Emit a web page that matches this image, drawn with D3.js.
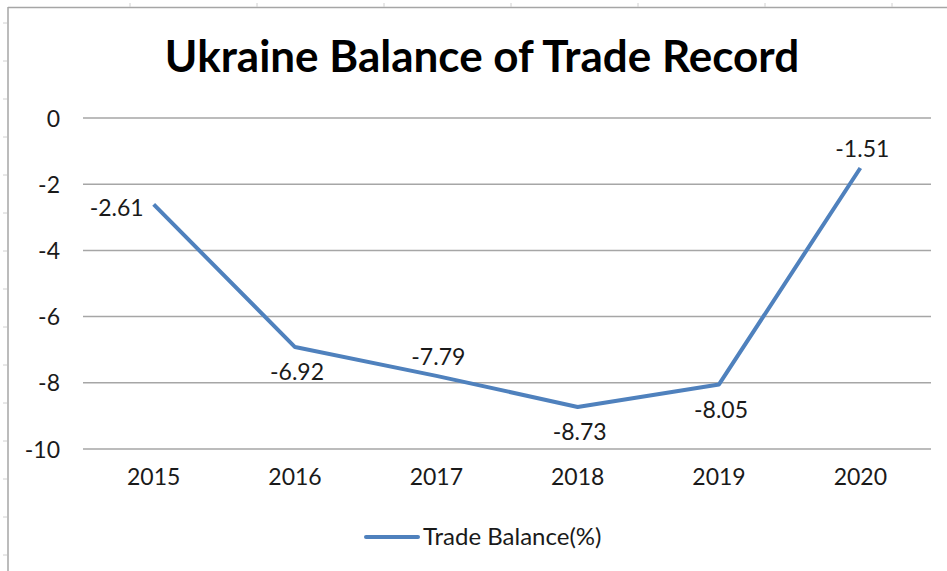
<!DOCTYPE html>
<html><head><meta charset="utf-8">
<script src="https://cdn.jsdelivr.net/npm/d3@7"></script>
<style>html,body{margin:0;padding:0;background:#fff;}svg{display:block;}</style>
</head><body>
<script>
const years = ["2015","2016","2017","2018","2019","2020"];
const tradeBalance = [-2.61,-6.92,-7.79,-8.73,-8.05,-1.51];
const labelPos = ["left","below","above","below","below","above"];
const yTicks = [0,-2,-4,-6,-8,-10];
const title = "Ukraine Balance of Trade Record";
const seriesName = "Trade Balance(%)";

const W=947,H=571;
const svg=d3.select("body").append("svg").attr("width",W).attr("height",H);
const font="Lato, 'Open Sans', sans-serif";
const lineColor="#4f81bd";
const fs=23;

// outer frame (top + left) and ruler marks
svg.append("line").attr("x1",8).attr("x2",W).attr("y1",7.5).attr("y2",7.5).attr("stroke","#a6a6a6").attr("stroke-width",1.5);
svg.append("line").attr("x1",8).attr("x2",8).attr("y1",7).attr("y2",H).attr("stroke","#a6a6a6").attr("stroke-width",1.5);
d3.range(23,H,38).forEach(y=>svg.append("line").attr("x1",3).attr("x2",7).attr("y1",y).attr("y2",y).attr("stroke","#d0d0d0"));
d3.range(130,W,127).forEach(x=>svg.append("line").attr("x1",x).attr("x2",x).attr("y1",3).attr("y2",7).attr("stroke","#d0d0d0"));

const x=d3.scaleBand().domain(years).range([83,931]);
const y=d3.scaleLinear().domain([-10,0]).range([449,118]);

// gridlines
svg.append("g").selectAll("line").data(yTicks).join("line")
  .attr("x1",83).attr("x2",931).attr("y1",d=>y(d)).attr("y2",d=>y(d))
  .attr("stroke","#a6a6a6").attr("stroke-width",1.5);

// y axis labels
const yAxis=d3.axisLeft(y).tickValues(yTicks).tickSize(0).tickPadding(0).tickFormat(d=>d===0?"0":String(d).replace("−","-"));
const gy=svg.append("g").attr("transform","translate(60,0)").call(yAxis);
gy.select(".domain").remove();
gy.selectAll("text").attr("font-family",font).attr("font-size",fs).attr("fill","#1a1a1a").attr("dy","0.35em");

// x axis labels
const xAxis=d3.axisBottom(x).tickSize(0).tickPadding(0);
const gx=svg.append("g").attr("transform","translate(0,469)").call(xAxis);
gx.select(".domain").remove();
gx.selectAll("text").attr("font-family",font).attr("font-size",fs).attr("fill","#1a1a1a").attr("dy","0.71em");

// line
const cx=d=>x(d)+x.bandwidth()/2;
const line=d3.line().x((d,i)=>cx(years[i])).y(d=>y(d));
svg.append("path").datum(tradeBalance).attr("d",line).attr("fill","none")
  .attr("stroke",lineColor).attr("stroke-width",4).attr("stroke-linejoin","round");

// data labels
svg.append("g").selectAll("text").data(tradeBalance).join("text")
  .attr("font-family",font).attr("font-size",fs).attr("fill","#1a1a1a")
  .attr("x",(d,i)=>labelPos[i]==="left"?cx(years[i])-10:cx(years[i])+2)
  .attr("y",(d,i)=>{const py=y(d);return labelPos[i]==="left"?py+4:labelPos[i]==="above"?py-19:py+25;})
  .attr("text-anchor",(d,i)=>labelPos[i]==="left"?"end":"middle")
  .attr("dy","0.35em")
  .text(d=>d.toFixed(2));

// title
svg.append("text").attr("x",482).attr("y",72).attr("text-anchor","middle")
  .attr("font-family",font).attr("font-weight","bold").attr("font-size",44).attr("fill","#000")
  .text(title);

// legend
svg.append("line").attr("x1",366).attr("x2",418).attr("y1",537).attr("y2",537)
  .attr("stroke",lineColor).attr("stroke-width",4).attr("stroke-linecap","round");
svg.append("text").attr("x",423).attr("y",537).attr("dy","0.35em")
  .attr("font-family",font).attr("font-size",24).attr("fill","#1a1a1a").text(seriesName);
</script>
</body></html>
